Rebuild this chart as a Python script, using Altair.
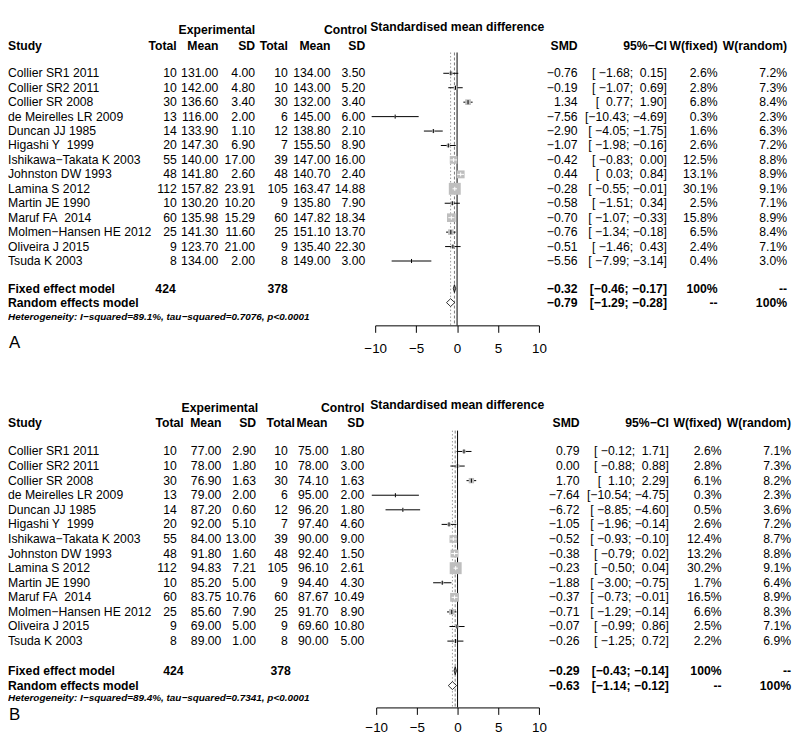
import altair as alt
import pandas as pd

FONT = "Liberation Sans"
FS = 12.3
M = "\u2212"      # minus sign
NB = "\u00a0"     # non-breaking space

# ---------------- data ----------------
studies = ["Collier SR1 2011", "Collier SR2 2011", "Collier SR 2008", "de Meirelles LR 2009",
           "Duncan JJ 1985", "Higashi Y" + NB + NB + "1999", "Ishikawa" + M + "Takata K 2003",
           "Johnston DW 1993", "Lamina S 2012", "Martin JE 1990", "Maruf FA" + NB + NB + "2014",
           "Molmen" + M + "Hansen HE 2012", "Oliveira J 2015", "Tsuda K 2003"]
e_total = [10, 10, 30, 13, 14, 20, 55, 48, 112, 10, 60, 25, 9, 8]
c_total = [10, 10, 30, 6, 12, 7, 39, 48, 105, 9, 60, 25, 9, 8]

# Panel A
a_e_mean = [131.00, 142.00, 136.60, 116.00, 133.90, 147.30, 140.00, 141.80, 157.82, 130.20, 135.98, 141.30, 123.70, 134.00]
a_e_sd = [4.00, 4.80, 3.40, 2.00, 1.10, 6.90, 17.00, 2.60, 23.91, 10.20, 15.29, 11.60, 21.00, 2.00]
a_c_mean = [134.00, 143.00, 132.00, 145.00, 138.80, 155.50, 147.00, 140.70, 163.47, 135.80, 147.82, 151.10, 135.40, 149.00]
a_c_sd = [3.50, 5.20, 3.40, 6.00, 2.10, 8.90, 16.00, 2.40, 14.88, 7.90, 18.34, 13.70, 22.30, 3.00]
a_smd = [-0.76, -0.19, 1.34, -7.56, -2.90, -1.07, -0.42, 0.44, -0.28, -0.58, -0.70, -0.76, -0.51, -5.56]
a_lo = [-1.68, -1.07, 0.77, -10.43, -4.05, -1.98, -0.83, 0.03, -0.55, -1.51, -1.07, -1.34, -1.46, -7.99]
a_hi = [0.15, 0.69, 1.90, -4.69, -1.75, -0.16, 0.00, 0.84, -0.01, 0.34, -0.33, -0.18, 0.43, -3.14]
a_wf = [2.6, 2.8, 6.8, 0.3, 1.6, 2.6, 12.5, 13.1, 30.1, 2.5, 15.8, 6.5, 2.4, 0.4]
a_wr = [7.2, 7.3, 8.4, 2.3, 6.3, 7.2, 8.8, 8.9, 9.1, 7.1, 8.9, 8.4, 7.1, 3.0]
a_fixed = [-0.32, -0.46, -0.17]
a_random = [-0.79, -1.29, -0.28]
a_het = "Heterogeneity: I" + M + "squared=89.1%, tau" + M + "squared=0.7076, p<0.0001"

# Panel B
b_e_mean = [77.00, 78.00, 76.90, 79.00, 87.20, 92.00, 84.00, 91.80, 94.83, 85.20, 83.75, 85.60, 69.00, 89.00]
b_e_sd = [2.90, 1.80, 1.63, 2.00, 0.60, 5.10, 13.00, 1.60, 7.21, 5.00, 10.76, 7.90, 5.00, 1.00]
b_c_mean = [75.00, 78.00, 74.10, 95.00, 96.20, 97.40, 90.00, 92.40, 96.10, 94.40, 87.67, 91.70, 69.60, 90.00]
b_c_sd = [1.80, 3.00, 1.63, 2.00, 1.80, 4.60, 9.00, 1.50, 2.61, 4.30, 10.49, 8.90, 10.80, 5.00]
b_smd = [0.79, 0.00, 1.70, -7.64, -6.72, -1.05, -0.52, -0.38, -0.23, -1.88, -0.37, -0.71, -0.07, -0.26]
b_lo = [-0.12, -0.88, 1.10, -10.54, -8.85, -1.96, -0.93, -0.79, -0.50, -3.00, -0.73, -1.29, -0.99, -1.25]
b_hi = [1.71, 0.88, 2.29, -4.75, -4.60, -0.14, -0.10, 0.02, 0.04, -0.75, -0.01, -0.14, 0.86, 0.72]
b_wf = [2.6, 2.8, 6.1, 0.3, 0.5, 2.6, 12.4, 13.2, 30.2, 1.7, 16.5, 6.6, 2.5, 2.2]
b_wr = [7.1, 7.3, 8.2, 2.3, 3.6, 7.2, 8.7, 8.8, 9.1, 6.4, 8.9, 8.3, 7.1, 6.9]
b_fixed = [-0.29, -0.43, -0.14]
b_random = [-0.63, -1.14, -0.12]
b_het = "Heterogeneity: I" + M + "squared=89.4%, tau" + M + "squared=0.7341, p<0.0001"

axis_ticks = [-10, -5, 0, 5, 10]


def num(v, d=2):
    s = f"{v:.{d}f}"
    return s.replace("-", M)


def pad(s, w):
    return NB * (w - len(s)) + s


def ci_strings(lo, hi):
    los = [f"{v:.2f}" for v in lo]
    his = [f"{v:.2f}" for v in hi]
    wl = max(len(s) for s in los)
    wh = max(len(s) for s in his)
    return ["[" + pad(l, wl).replace("-", M) + ";" + NB + pad(h, wh).replace("-", M) + "]"
            for l, h in zip(los, his)]


def panel(P, d, letter):
    n = len(studies)
    D = P["height"] / P["step"]
    yscale = alt.Scale(domain=[0, D], reverse=True, nice=False, zero=False)
    xscale = alt.Scale(domain=[-10, 10], range=[P["x_lo"], P["x_hi"]], nice=False, zero=False)
    xaxis = alt.Axis(values=axis_ticks, format="d", title=None, grid=False, domainColor="black",
                     tickColor="black", labelColor="black", tickSize=7, labelFont=FONT,
                     labelFontSize=13.5, labelPadding=P["lp"], domainWidth=1, tickWidth=1,
                     labelFlush=False, labelOverlap=False)

    def X(f):
        return alt.X(f"{f}:Q", scale=xscale, axis=xaxis)

    def Y(f):
        return alt.Y(f"{f}:Q", scale=yscale, axis=None)

    rows = [P["row0"] + i for i in range(n)]
    unit = (P["x_hi"] - P["x_lo"]) / 20.0
    side = [(w * 4.8) ** 0.5 for w in d["wf"]]
    inside = [(h - l) * unit <= s for l, h, s in zip(d["lo"], d["hi"], side)]
    df = pd.DataFrame({
        "study": studies, "row": rows,
        "r1": [r - 0.14 for r in rows], "r2": [r + 0.14 for r in rows],
        "et": [str(v) for v in e_total], "em": [num(v) for v in d["em"]], "es": [num(v) for v in d["es"]],
        "ct": [str(v) for v in c_total], "cm": [num(v) for v in d["cm"]], "cs": [num(v) for v in d["cs"]],
        "smd": d["smd"], "lo": d["lo"], "hi": d["hi"], "wf": d["wf"],
        "smd_t": [num(v) for v in d["smd"]], "ci_t": ci_strings(d["lo"], d["hi"]),
        "wf_t": [f"{v:.1f}%" for v in d["wf"]], "wr_t": [f"{v:.1f}%" for v in d["wr"]],
        "inside": inside,
        "cc": ["white" if f else "black" for f in inside],
    })

    fx, fl, fh = d["fixed"]
    rx, rl, rh = d["random"]
    summ = pd.DataFrame({
        "row": [P["row_fixed"], P["row_random"]],
        "smd_t": [num(fx), num(rx)],
        "ci_t": ["[" + num(fl) + ";" + NB + num(fh) + "]", "[" + num(rl) + ";" + NB + num(rh) + "]"],
        "wf_t": ["100%", "--"], "wr_t": ["--", "100%"],
        "label": ["Fixed effect model", "Random effects model"],
    })
    hdh = 0.27
    diam_f = pd.DataFrame({"x": [fl, fx, fh],
                           "y": [P["row_fixed"], P["row_fixed"] - hdh, P["row_fixed"]],
                           "y2": [P["row_fixed"], P["row_fixed"] + hdh, P["row_fixed"]]})
    diam_r = pd.DataFrame({"x": [rl, rx, rh],
                           "y": [P["row_random"], P["row_random"] - hdh, P["row_random"]],
                           "y2": [P["row_random"], P["row_random"] + hdh, P["row_random"]]})
    vl = pd.DataFrame({"x": [0.0, fx, rx], "kind": ["zero", "fixed", "random"],
                       "top": [P["vtop"]] * 3, "bot": [D] * 3})

    layers = []
    # reference lines
    layers.append(alt.Chart(vl).transform_filter("datum.kind=='random'").mark_rule(
        color="#9a9a9a", strokeWidth=1, strokeDash=[1.5, 2]).encode(x=X("x"), y=Y("top"), y2=alt.Y2("bot")))
    layers.append(alt.Chart(vl).transform_filter("datum.kind=='fixed'").mark_rule(
        color="#7a7a7a", strokeWidth=1, strokeDash=[3, 2]).encode(x=X("x"), y=Y("top"), y2=alt.Y2("bot")))
    layers.append(alt.Chart(vl).transform_filter("datum.kind=='zero'").mark_rule(
        color="black", strokeWidth=1).encode(x=X("x"), y=Y("top"), y2=alt.Y2("bot")))
    # CI lines, squares
    layers.append(alt.Chart(df).mark_rule(color="black", strokeWidth=1).encode(
        x=X("lo"), x2=alt.X2("hi"), y=Y("row")))
    layers.append(alt.Chart(df).mark_square(color="#bebebe", opacity=1).encode(
        x=X("smd"), y=Y("row"),
        size=alt.Size("wf:Q", scale=alt.Scale(domain=[0, 30], range=[0, 144]), legend=None)))
    layers.append(alt.Chart(df).transform_filter("datum.inside").mark_rule(
        color="white", strokeWidth=1).encode(x=X("lo"), x2=alt.X2("hi"), y=Y("row")))
    layers.append(alt.Chart(df).mark_rule(strokeWidth=1).encode(
        x=X("smd"), y=Y("r1"), y2=alt.Y2("r2"), color=alt.Color("cc:N", scale=None)))
    # diamonds
    layers.append(alt.Chart(diam_f).mark_area(fill="#8c8c8c", stroke="black", strokeWidth=0.8,
                                              orient="vertical").encode(
        x=X("x"), y=Y("y"), y2=alt.Y2("y2")))
    layers.append(alt.Chart(diam_r).mark_area(fill="white", stroke="black", strokeWidth=0.8,
                                              orient="vertical").encode(
        x=X("x"), y=Y("y"), y2=alt.Y2("y2")))

    def tcol(data, field, x, align="right", bold=False, size=FS, italic=False):
        return alt.Chart(data).mark_text(
            align=align, baseline="middle", font=FONT, fontSize=size, color="black",
            fontWeight="bold" if bold else "normal", fontStyle="italic" if italic else "normal"
        ).encode(x=alt.value(x), y=Y("row"), text=alt.Text(f"{field}:N"))

    def lab(text, x, row, align="right", bold=True, size=FS, italic=False):
        data = pd.DataFrame({"t": [text], "row": [row]})
        return tcol(data, "t", x, align, bold, size, italic)

    # study table
    layers.append(tcol(df, "study", P["x_study"], "left"))
    for f, x in zip(["et", "em", "es", "ct", "cm", "cs"], P["cols"]):
        layers.append(tcol(df, f, x))
    for f, x in zip(["smd_t", "ci_t", "wf_t", "wr_t"], P["rcols"]):
        layers.append(tcol(df, f, x))
    # summary rows
    layers.append(tcol(summ, "label", P["x_study"], "left", bold=True))
    for f, x in zip(["smd_t", "ci_t", "wf_t", "wr_t"], P["rcols"]):
        layers.append(tcol(summ, f, x, bold=True))
    layers.append(lab(str(sum(e_total)), P["tot"][0], P["row_fixed"]))
    layers.append(lab(str(sum(c_total)), P["tot"][1], P["row_fixed"]))
    layers.append(lab(d["het"], P["x_study"], P["row_het"], "left", bold=True, size=10, italic=True))
    # headers
    layers.append(lab("Experimental", P["exp_x"], P["row_h1"]))
    layers.append(lab("Control", P["ctl_x"], P["row_h1"]))
    layers.append(lab("Standardised mean difference", P["smd_title_x"], P["row_title"], "left"))
    layers.append(lab("Study", P["x_study"], P["row_h2"], "left"))
    for t, x in zip(["Total", "Mean", "SD", "Total", "Mean", "SD"], P["hcols"]):
        layers.append(lab(t, x, P["row_h2"]))
    for t, x in zip(["SMD", "95%" + M + "CI", "W(fixed)", "W(random)"], P["rcols"]):
        layers.append(lab(t, x, P["row_h2"]))
    layers.append(lab(letter, P["x_study"] + 1, P["row_letter"], "left", bold=False, size=17))

    return alt.layer(*layers).properties(width=P["width"], height=P["height"])


PA = dict(height=317, step=14.55, width=786, x_lo=370, x_hi=535, lp=9,
          row0=4.33, row_fixed=19.24, row_random=20.21, row_het=21.24, row_letter=23.0,
          row_h1=1.31, row_title=1.10, row_h2=2.41, vtop=2.89,
          x_study=0, cols=[170, 212, 249, 282, 325, 360], hcols=[170, 212, 249, 282, 325, 360],
          rcols=[574, 664, 715, 785], tot=[169, 282], exp_x=249, ctl_x=362, smd_title_x=365)
PB = dict(height=321, step=14.7, width=790, x_lo=371, x_hi=535, lp=6,
          row0=4.29, row_fixed=19.32, row_random=20.34, row_het=21.22, row_letter=22.38,
          row_h1=1.29, row_title=1.09, row_h2=2.31, vtop=2.86,
          x_study=0, cols=[170, 215, 250, 282, 323, 359], hcols=[177, 215, 250, 289, 322, 359],
          rcols=[576, 666, 719, 789], tot=[177, 285], exp_x=252, ctl_x=359, smd_title_x=365)

dA = dict(em=a_e_mean, es=a_e_sd, cm=a_c_mean, cs=a_c_sd, smd=a_smd, lo=a_lo, hi=a_hi,
          wf=a_wf, wr=a_wr, fixed=a_fixed, random=a_random, het=a_het)
dB = dict(em=b_e_mean, es=b_e_sd, cm=b_c_mean, cs=b_c_sd, smd=b_smd, lo=b_lo, hi=b_hi,
          wf=b_wf, wr=b_wr, fixed=b_fixed, random=b_random, het=b_het)

chart = alt.vconcat(panel(PA, dA, "A"), panel(PB, dB, "B"), spacing=34).properties(
    padding=0, background="white"
).configure_view(stroke=None)

chart.save("out.html", embed_options={"renderer": "svg", "actions": False})
